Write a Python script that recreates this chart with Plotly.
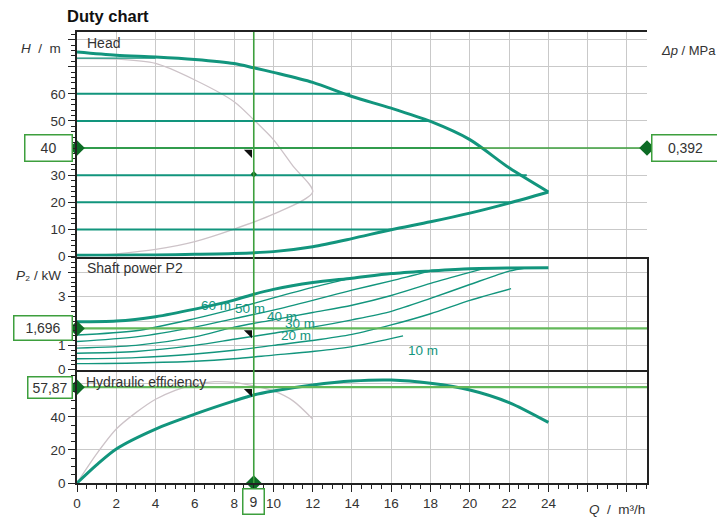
import plotly.graph_objects as go

# ---------------- data ----------------
# Head panel: max-speed curve
Q_MAX = [0, 2, 4, 6, 8, 9, 10, 12, 14, 16, 18, 20, 22, 24]
H_MAX = [75.4, 74.2, 73.6, 72.7, 71.2, 69.6, 67.9, 64.2, 59.0, 54.7, 49.8, 43.1, 32.7, 23.8]
# Head panel: min curve
Q_MIN = [0, 2, 4, 6, 8, 10, 12, 14, 16, 18, 20, 22, 24]
H_MIN = [0.5, 0.5, 0.6, 0.8, 1.1, 1.8, 3.6, 6.6, 9.9, 12.8, 16.0, 19.7, 23.8]
# Head panel: constant-head control lines (head, end flow)
SET_H = [10, 20, 30, 40, 50, 60, 73.2]
SET_QEND = [16.0, 22.1, 22.9, 20.7, 18.0, 13.9, 4.0]
# Head panel: grey reference curve
GRAY_Q = [0, 2, 4, 6, 8, 9, 10, 11, 12, 10, 8, 6, 4, 2, 0]
GRAY_H = [73.0, 72.8, 71.2, 65.1, 57.1, 50.4, 43.1, 33.3, 23.8, 15.6, 10.1, 5.5, 2.6, 1.0, 0]

# Shaft power panel
PMAX_Q = [0, 2, 4, 6, 8, 9, 10, 12, 14, 16, 18, 20, 22, 24]
PMAX = [1.97, 2.0, 2.18, 2.49, 2.86, 3.1, 3.3, 3.58, 3.76, 3.95, 4.06, 4.15, 4.18, 4.19]
P60_Q = [0, 3, 6, 8, 10, 12, 13.9]
P60 = [1.43, 1.6, 2.1, 2.5, 2.95, 3.38, 3.75]
P50_Q = [0, 3, 6, 8, 10, 12, 14, 16, 18]
P50 = [1.16, 1.35, 1.75, 2.1, 2.45, 2.85, 3.27, 3.65, 4.06]
P40_Q = [0, 3, 6, 8, 10, 12, 14, 16, 18, 20, 20.7]
P40 = [0.89, 1.0, 1.35, 1.75, 2.05, 2.35, 2.65, 3.05, 3.55, 4.0, 4.15]
P30_Q = [0, 3, 6, 8, 10, 12, 14, 16, 18, 20, 22, 22.9]
P30 = [0.68, 0.75, 1.0, 1.25, 1.5, 1.75, 2.05, 2.4, 2.93, 3.5, 4.05, 4.19]
P20_Q = [0, 3, 6, 8, 10, 12, 14, 16, 18, 20, 22.1]
P20 = [0.45, 0.5, 0.65, 0.8, 1.0, 1.2, 1.45, 1.84, 2.3, 2.85, 3.33]
P10_Q = [0, 3, 6, 8, 10, 12, 14, 16.6]
P10 = [0.25, 0.28, 0.35, 0.45, 0.6, 0.75, 0.95, 1.39]
P_LABELS = ["60 m", "50 m", "40 m", "30 m", "20 m", "10 m"]

# Hydraulic efficiency panel
EFF_Q = [0, 1, 2, 4, 6, 8, 9, 10, 12, 14, 16, 18, 20, 22, 24]
EFF = [0, 11, 20.6, 32.6, 41.6, 49.6, 53.2, 55.6, 59.2, 61.6, 62.2, 60.2, 56.2, 48.6, 36.6]
GEFF_Q = [0, 1, 2, 3, 4, 5, 6, 7, 8, 9, 10, 11, 12]
GEFF = [0, 17.6, 32.6, 42.5, 50.6, 56.0, 59.6, 61.2, 60.8, 58.6, 55.6, 49.6, 38.6]

# Duty point
DUTY_Q = 9
DUTY_H = 40
DUTY_DP = 0.392
DUTY_P = 1.696
DUTY_EFF = 57.87
AUX_H = 30.3

X_TICKS = list(range(0, 29, 2))
X_LABELS = [str(v) if v <= 24 else "" for v in X_TICKS]
H_TICKS = list(range(0, 81, 10))
H_LABELS = [str(v) if v <= 60 else "" for v in H_TICKS]
DP_TICKS = [i / 10 for i in range(0, 9)]
DP_LABELS = ["0", "0,1", "0,2", "0,3", "0,4", "0,5", "0,6", "", ""]
P_TICKS = [0, 1, 2, 3, 4]
P_LABELS_AX = ["0", "1", "2", "3", ""]
E_TICKS = [0, 20, 40, 60]
E_LABELS = ["0", "20", "40", "60"]

# ---------------- styling ----------------
TEAL = "#12957d"
GREEN = "#3d9f3d"
GREEN_L = "#63b85a"
DKGREEN = "#0d6b25"
GRAY = "#cdc3c8"
GRID = "#c9c9c9"
FONT = "Liberation Sans, Arial, sans-serif"
TXT = "#333333"

X_MAX = 29.02
H_TOP = 82.8
P_TOP = 4.65
E_TOP = 68.4
M_PER_MPA = 102.0

fig = go.Figure()

def line(x, y, ax, color, width, shape="spline", dash=None):
    fig.add_trace(go.Scatter(x=x, y=y, xaxis=ax[0], yaxis=ax[1], mode="lines",
                             line=dict(color=color, width=width, shape=shape,
                                       smoothing=0.8, dash=dash),
                             hoverinfo="skip", showlegend=False))

HEAD = ("x3", "y3")
POW = ("x2", "y2")
EF = ("x", "y")

# head panel
line(GRAY_Q, GRAY_H, HEAD, GRAY, 1.3)
for h, qe in zip(SET_H, SET_QEND):
    line([0, qe], [h, h], HEAD, TEAL, 2 if h != 73.2 else 1.3, shape="linear")
line(Q_MIN, H_MIN, HEAD, TEAL, 3)
line(Q_MAX, H_MAX, HEAD, TEAL, 3)

# power panel
for qq, pp in [(P10_Q, P10), (P20_Q, P20), (P30_Q, P30), (P40_Q, P40), (P50_Q, P50), (P60_Q, P60)]:
    line(qq, pp, POW, TEAL, 1.4)
line(PMAX_Q, PMAX, POW, TEAL, 3)

# efficiency panel
line(GEFF_Q, GEFF, EF, GRAY, 1.3)
line(EFF_Q, EFF, EF, TEAL, 3)

# duty lines
line([0, X_MAX], [DUTY_H, DUTY_H], HEAD, GREEN, 1.6, shape="linear")
line([0, X_MAX], [DUTY_P, DUTY_P], POW, GREEN_L, 2.2, shape="linear")
line([0, X_MAX], [DUTY_EFF, DUTY_EFF], EF, GREEN_L, 2.2, shape="linear")

fig.add_shape(type="line", xref="x", yref="paper", x0=DUTY_Q, x1=DUTY_Q, y0=0, y1=1,
              line=dict(color=GREEN, width=1.6))

# duty markers (black wedge) placed at duty point, drawn into lower-left quadrant
px_per_q = 570 / X_MAX
wedge = 9
dq = (wedge / 2) / px_per_q
for ax, yv, top, h_px in [(HEAD, DUTY_H, H_TOP, 226), (POW, DUTY_P, P_TOP, 114), (EF, DUTY_EFF, E_TOP, 114)]:
    dy = (wedge / 2) * top / h_px
    fig.add_trace(go.Scatter(x=[DUTY_Q - dq], y=[yv - dy], xaxis=ax[0], yaxis=ax[1], mode="markers",
                             marker=dict(symbol="triangle-ne", size=wedge, color="#111111"),
                             hoverinfo="skip", showlegend=False, cliponaxis=False))

fig.add_trace(go.Scatter(x=[DUTY_Q], y=[AUX_H], xaxis="x3", yaxis="y3", mode="markers",
                         marker=dict(symbol="diamond", size=5, color=DKGREEN),
                         hoverinfo="skip", showlegend=False))

# diamonds
def diamond(x, y, ax):
    fig.add_trace(go.Scatter(x=x, y=y, xaxis=ax[0], yaxis=ax[1], mode="markers",
                             marker=dict(symbol="diamond", size=12, color=DKGREEN),
                             hoverinfo="skip", showlegend=False, cliponaxis=False))

diamond([0, X_MAX], [DUTY_H, DUTY_H], HEAD)
diamond([0], [DUTY_P], POW)
diamond([0, DUTY_Q], [DUTY_EFF, 0], EF)

# ---------------- axes ----------------
base = dict(showline=True, linecolor="#222222", linewidth=1.6, zeroline=False,
            gridcolor=GRID, gridwidth=1.2)
tickfont = dict(family=FONT, size=13.5, color=TXT)

def minor(dt):
    return dict(tickmode="linear", tick0=0, dtick=dt, ticks="outside", ticklen=4,
                tickcolor="#222222", showgrid=False)

# the page body adds an 8px offset, so the figure is sized and margined to compensate
fig.update_layout(
    width=717, height=515,
    margin=dict(l=69, r=78, t=24, b=37),
    paper_bgcolor="white", plot_bgcolor="white",
    font=dict(family=FONT, size=14, color=TXT),
    showlegend=False,
    xaxis=dict(anchor="y", domain=[0, 1], range=[0, X_MAX], tickmode="array",
               tickvals=X_TICKS, ticktext=X_LABELS, ticks="outside", ticklen=7,
               tickcolor="#222222", tickfont=tickfont, minor=minor(0.5), mirror=False, **base),
    xaxis2=dict(anchor="y2", domain=[0, 1], range=[0, X_MAX], matches="x", tickmode="array",
                tickvals=X_TICKS, showticklabels=False, ticks="", mirror=False, **base),
    xaxis3=dict(anchor="y3", domain=[0, 1], range=[0, X_MAX], matches="x", tickmode="array",
                tickvals=X_TICKS, showticklabels=False, ticks="", mirror=True, **base),
    yaxis=dict(anchor="x", domain=[0, 0.2511], range=[0, E_TOP], tickmode="array",
               tickvals=E_TICKS, ticktext=E_LABELS, ticks="outside", ticklen=7,
               tickcolor="#222222", tickfont=tickfont, minor=minor(5), mirror=True, **base),
    yaxis2=dict(anchor="x2", domain=[0.2511, 0.5022], range=[0, P_TOP], tickmode="array",
                tickvals=P_TICKS, ticktext=P_LABELS_AX, ticks="outside", ticklen=7,
                tickcolor="#222222", tickfont=tickfont, minor=minor(0.2), mirror=True, **base),
    yaxis3=dict(anchor="x3", domain=[0.5022, 1], range=[0, H_TOP], tickmode="array",
                tickvals=H_TICKS, ticktext=H_LABELS, ticks="outside", ticklen=7,
                tickcolor="#222222", tickfont=tickfont, minor=minor(2), mirror=False, **base),
    yaxis4=dict(anchor="x3", overlaying="y3", side="right", range=[0, H_TOP / M_PER_MPA],
                tickmode="array", tickvals=DP_TICKS, ticktext=DP_LABELS, ticks="outside",
                ticklen=7, tickcolor="#222222", tickfont=tickfont, showgrid=False,
                showline=True, linecolor="#222222", linewidth=1.6, zeroline=False,
                minor=minor(0.01)),
)

# ---------------- annotations ----------------
ann = []

def text(t, **kw):
    d = dict(text=t, showarrow=False, font=dict(family=FONT, size=14, color=TXT))
    d.update(kw)
    ann.append(d)

text("<b>Duty chart</b>", xref="paper", yref="paper", x=0, y=1, xanchor="left",
     yanchor="middle", xshift=-12, yshift=16, font=dict(family=FONT, size=16.5, color="#111111"))
text("Head", xref="paper", yref="y3 domain", x=0, y=1, xanchor="left", yanchor="top",
     xshift=8, yshift=-1)
text("Shaft power P2", xref="paper", yref="y2 domain", x=0, y=1, xanchor="left",
     yanchor="top", xshift=8, yshift=-1)
text("Hydraulic efficiency", xref="paper", yref="y domain", x=0, y=1, xanchor="left",
     yanchor="top", xshift=7, yshift=-2)
text("<i>H</i>  /  m", xref="paper", yref="y3 domain", x=0, y=1, xanchor="right",
     yanchor="middle", xshift=-14, yshift=-16, font=dict(family=FONT, size=13.5, color=TXT))
text("<i>P</i>₂ / kW", xref="paper", yref="y2 domain", x=0, y=1, xanchor="right",
     yanchor="middle", xshift=-14, yshift=-19, font=dict(family=FONT, size=13.5, color=TXT))
text("<i>Δp</i> / MPa", xref="paper", yref="y3 domain", x=1, y=1, xanchor="left",
     yanchor="middle", xshift=12, yshift=-18, font=dict(family=FONT, size=13, color=TXT))
text("<i>Q</i>  /  m³/h", xref="paper", yref="paper", x=1, y=0, xanchor="right",
     yanchor="middle", xshift=0, yshift=-26, font=dict(family=FONT, size=13.5, color=TXT))

# curve labels in power panel
LABEL_POS = [(7.1, 2.63), (8.8, 2.5), (10.45, 2.18), (11.35, 1.9), (11.15, 1.42), (17.6, 0.8)]
for lab, (lx, ly) in zip(P_LABELS, LABEL_POS):
    text(lab, xref="x2", yref="y2", x=lx, y=ly, font=dict(family=FONT, size=13.5, color=TEAL))

box = dict(bordercolor=GREEN, borderwidth=1.5, borderpad=0, bgcolor="white")
text("40", xref="paper", yref="y3", x=0, y=DUTY_H, xanchor="right", yanchor="middle",
     xshift=-4, width=46, height=25, **box)
text("0,392", xref="paper", yref="y3", x=1, y=DUTY_H, xanchor="left", yanchor="middle",
     xshift=4, width=66, height=25, **box)
text("1,696", xref="paper", yref="y2", x=0, y=DUTY_P, xanchor="right", yanchor="middle",
     xshift=-4, width=57, height=23, **box)
text("57,87", xref="paper", yref="y", x=0, y=DUTY_EFF, xanchor="right", yanchor="middle",
     xshift=-4, width=43, height=20, **box)
text(str(DUTY_Q), xref="x", yref="paper", x=DUTY_Q, y=0, xanchor="center", yanchor="top",
     yshift=-5, width=20, height=24, **box)

fig.update_layout(annotations=ann)

fig.write_html("out.html")
